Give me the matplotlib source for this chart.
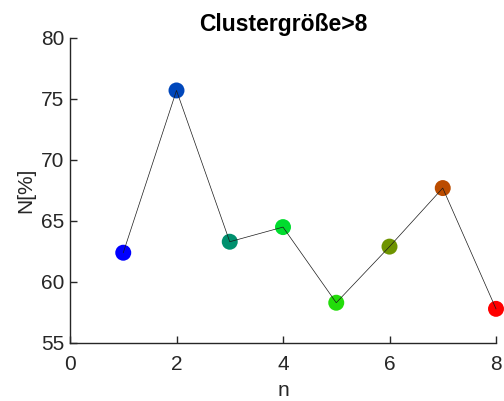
import matplotlib
matplotlib.use("Agg")
import matplotlib.pyplot as plt

plt.rcParams['font.family'] = ['Liberation Sans', 'DejaVu Sans']

n_values = [1, 2, 3, 4, 5, 6, 7, 8]
percent = [62.4, 75.7, 63.3, 64.5, 58.3, 62.9, 67.7, 57.8]
point_colors = ['#0000FF', '#0047BB', '#00906E', '#00DC2E',
                '#22DD0A', '#6E9400', '#BB4C00', '#FF0000']
x_ticks = [0, 2, 4, 6, 8]
y_ticks = [55, 60, 65, 70, 75, 80]

text_color = '#262626'

fig = plt.figure(figsize=(5.04, 4.01), dpi=100)
ax = fig.add_axes([70 / 504, 1 - 343 / 401, 426 / 504, 305 / 401])

ax.scatter(n_values, percent, s=11.5 ** 2, c=point_colors, edgecolors='none',
           zorder=2, clip_on=False)
ax.plot(n_values, percent, color='#1a1a1a', linewidth=0.5, zorder=3, clip_on=False)

ax.set_xlim(0, 8)
ax.set_ylim(55, 80)
ax.set_xticks(x_ticks)
ax.set_yticks(y_ticks)

for side in ('top', 'right'):
    ax.spines[side].set_visible(False)
for side in ('left', 'bottom'):
    ax.spines[side].set_color(text_color)
    ax.spines[side].set_linewidth(1.0)

ax.tick_params(direction='in', length=5, width=1.0, colors=text_color,
               labelsize=15)
ax.tick_params(axis='x', pad=9)
ax.tick_params(axis='y', pad=4)

ax.set_xlabel('n', fontsize=15, color=text_color, labelpad=5)
ax.set_ylabel('N[%]', fontsize=15, color=text_color, labelpad=4)
ax.set_title('Clustergröße>8', fontsize=16.5, fontweight='bold', color='black', pad=5)

fig.savefig('out.png', dpi=100)
